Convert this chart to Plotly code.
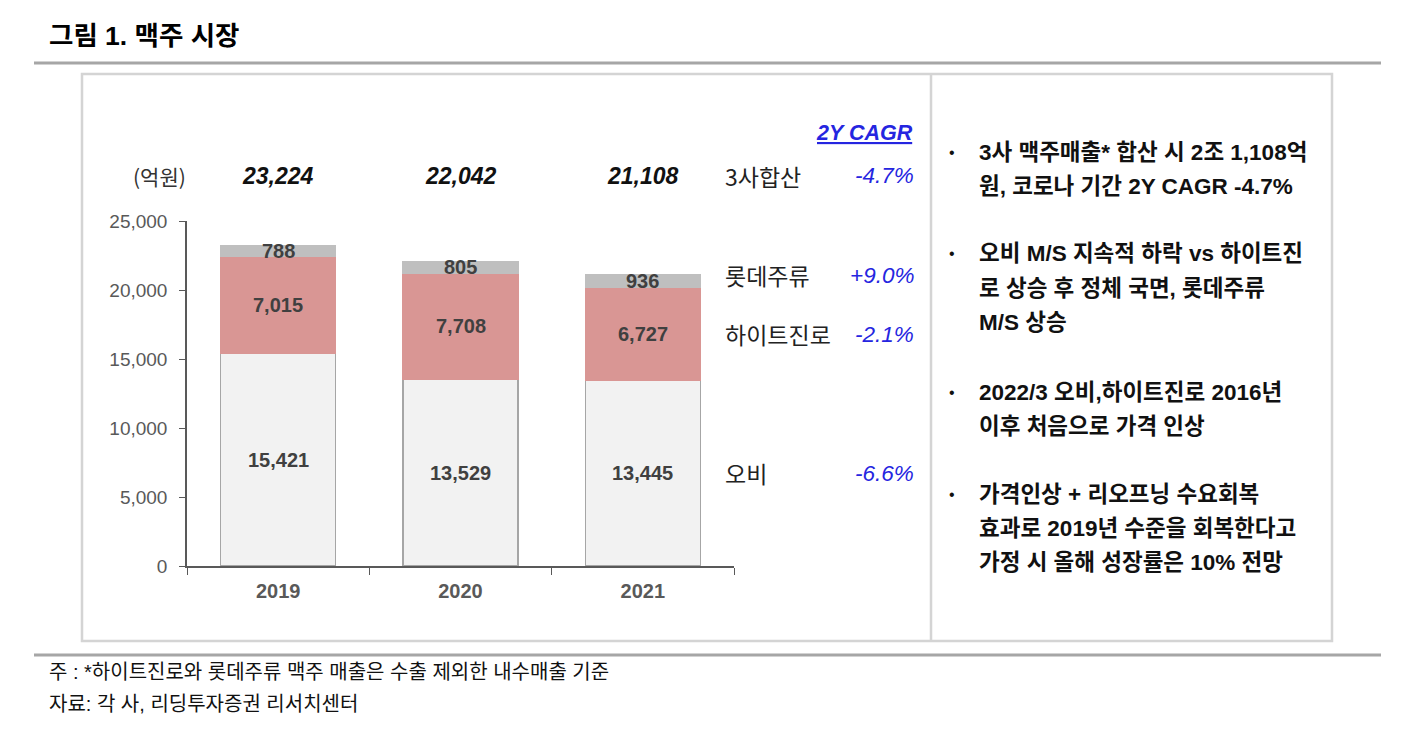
import plotly.graph_objects as go

# ---------------- data ----------------
years = ["2019", "2020", "2021"]
ob = [15421, 13529, 13445]          # 오비
hite = [7015, 7708, 6727]           # 하이트진로
lotte = [788, 805, 936]             # 롯데주류
totals = [23224, 22042, 21108]      # 3사합산
series_names = ["오비", "하이트진로", "롯데주류"]
cagr_labels = ["3사합산", "롯데주류", "하이트진로", "오비"]
cagr_values = ["-4.7%", "+9.0%", "-2.1%", "-6.6%"]
y_ticks = [0, 5000, 10000, 15000, 20000, 25000]

bullets = [
    ["3사 맥주매출* 합산 시 2조 1,108억", "원, 코로나 기간 2Y CAGR -4.7%"],
    ["오비 M/S 지속적 하락 vs 하이트진", "로 상승 후 정체 국면, 롯데주류", "M/S 상승"],
    ["2022/3 오비,하이트진로 2016년", "이후 처음으로 가격 인상"],
    ["가격인상 + 리오프닝 수요회복", "효과로 2019년 수준을 회복한다고", "가정 시 올해 성장률은 10% 전망"],
]
title_text = "그림 1. 맥주 시장"
notes = ["주 : *하이트진로와 롯데주류 맥주 매출은 수출 제외한 내수매출 기준",
         "자료: 각 사, 리딩투자증권 리서치센터"]

# ---------------- layout helpers ----------------
W, H = 1413, 736
def px(x):
    return x / W
def py(y):
    return 1 - y / H

FONT = "Liberation Sans, Arial, Noto Sans CJK KR, sans-serif"
KFONT = "Noto Sans CJK KR, Liberation Sans, sans-serif"
BLUE = "#2525E0"

fig = go.Figure()
colors = ["#F2F2F2", "#D99694", "#BFBFBF"]
for name, vals, col in zip(series_names, [ob, hite, lotte], colors):
    fig.add_trace(go.Bar(
        x=years, y=vals, name=name,
        marker=dict(color=col,
                    line=dict(color="#A6A6A6" if name == "오비" else col, width=1.5)),
        hoverinfo="x+y+name",
    ))

annotations = []
def txt(x, y, text, size, color="#111111", family=FONT, xanchor="center", xref="paper", yref="paper"):
    annotations.append(dict(x=x, y=y, xref=xref, yref=yref, text=text, showarrow=False,
                            xanchor=xanchor, yanchor="middle",
                            font=dict(family=family, size=size, color=color)))

# segment labels
for i, yr in enumerate(years):
    base = 0
    for vals in [ob, hite, lotte]:
        v = vals[i]
        txt(i, base + v / 2, f"<b>{v:,}</b>", 20, "#404040", xref="x", yref="y")
        base += v
    # totals
    txt(i, py(176), f"<b><i>{totals[i]:,}</i></b>", 23, "#111111", xref="x")

txt(px(159), py(176), "(억원)", 21, "#333333", family=KFONT)

# CAGR block
txt(px(915), py(133), "<b><i><u>2Y CAGR</u></i></b>", 21.5, BLUE, xanchor="right")
cagr_y = [176, 275, 334, 473]
for lab, val, yy in zip(cagr_labels, cagr_values, cagr_y):
    txt(px(723), py(yy), lab, 23, "#222222", family=KFONT, xanchor="left")
    txt(px(916), py(yy), f"<i>{val}</i>", 22.5, BLUE, xanchor="right")

# bullets
starts = [152, 254, 392, 494]
for lines, y0 in zip(bullets, starts):
    txt(px(952), py(y0), "•", 16, "#111111")
    for k, ln in enumerate(lines):
        txt(px(977), py(y0 + 34 * k), f"<b>{ln}</b>", 22.5, "#111111", xanchor="left")

# title and notes
txt(px(47), py(36), f"<b>{title_text}</b>", 26.5, "#000000", xanchor="left")
for k, nt in enumerate(notes):
    txt(px(47), py(672 + 32 * k), nt, 20, "#111111", xanchor="left")

shapes = [
    dict(type="line", xref="paper", yref="paper", x0=px(34), x1=px(1381), y0=py(63), y1=py(63),
         line=dict(color="#A6A6A6", width=3)),
    dict(type="line", xref="paper", yref="paper", x0=px(34), x1=px(1381), y0=py(655), y1=py(655),
         line=dict(color="#A6A6A6", width=3)),
    dict(type="rect", xref="paper", yref="paper", x0=px(82), x1=px(1332), y0=py(641), y1=py(74),
         line=dict(color="#D4D4D4", width=2.5), layer="below"),
    dict(type="line", xref="paper", yref="paper", x0=px(931), x1=px(931), y0=py(641), y1=py(74),
         line=dict(color="#D4D4D4", width=2.5)),
]

fig.update_layout(
    width=W, height=H,
    margin=dict(l=0, r=0, t=0, b=0, autoexpand=False),
    paper_bgcolor="white", plot_bgcolor="white",
    barmode="stack", bargap=0.37,
    showlegend=False,
    annotations=annotations, shapes=shapes,
    xaxis=dict(domain=[px(187), px(734)], type="category", range=[-0.5, 2.5],
               automargin=False, tickangle=0, ticklabelstandoff=6,
               showline=True, linecolor="#595959", linewidth=1.5,
               ticks="outside", tickson="boundaries", ticklen=7, tickcolor="#595959",
               tickfont=dict(family=FONT, size=20, color="#595959", weight="bold"),
               showgrid=False),
    yaxis=dict(domain=[py(566), py(221)], range=[0, 25000], tickvals=y_ticks,
               automargin=False, ticklabelstandoff=8,
               tickformat=",", showline=True, linecolor="#595959", linewidth=1.5,
               ticks="outside", ticklen=6, tickcolor="#595959",
               tickfont=dict(family=FONT, size=19, color="#595959"),
               showgrid=False, zeroline=False),
)

fig.write_html("out.html")
